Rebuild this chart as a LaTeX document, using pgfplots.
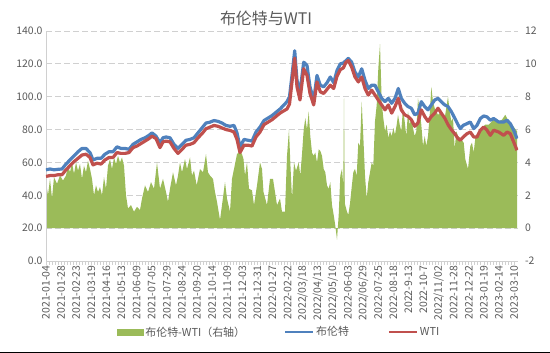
\documentclass[border=0pt]{standalone}
\usepackage{fontspec}
\setmainfont{Noto Sans CJK SC}
\usepackage{pgfplots}
\pgfplotsset{compat=1.18}
\usepackage{pgfplotstable}
\definecolor{brent}{HTML}{4F81BD}
\definecolor{wti}{HTML}{C0504D}
\definecolor{spreadc}{HTML}{9BBB59}
\definecolor{txt}{HTML}{595959}
\definecolor{gridc}{HTML}{D0D0D0}

% x = position on the date axis (label k sits at 46+15.1k)
\pgfplotstableread{
px brent wti
46 55.5 51.5
50 56 52
54 55.5 52
58 55.8 52.5
62 56 52.5
66 59 55.5
70 61.5 58
74 64 60.5
78 66.5 62.5
82 68.5 64.5
86 68.5 65
90 66 63
93 61.5 58.5
97 62.5 59.5
101 62.5 59
105 65 61.5
109 66.5 63
113 66.5 63
117 69.5 66
121 68.5 65.5
125 68.5 65.5
129 68 66
133 71 69
137 72.5 70
141 74 71.5
145 75 73
149 76.5 74.5
152 78 76
156 76 74.5
160 72 69
163 75 72.5
166 75.5 73
170 75 72.5
174 71 68.5
178 68.5 65.5
182 71 68
186 73.5 70.5
190 74 71
194 75 72
198 78 75
202 81 77.5
206 84 80.5
210 84.5 81.5
214 85.5 82.5
218 85 82
222 84 81
226 82.5 80
230 82 79.5
234 82.5 78.5
237 78 74
240 69.5 66
244 74 70.5
248 73.5 70.5
252 73 70
256 78.5 75.5
260 81.5 78.5
264 85.5 83
268 87 84.5
272 88.5 86
276 90.5 88
280 92.5 90
284 95 91.5
287 97 92.5
289.5 100 95.5
292 113 109
294.7 128 123.5
297 110 106
300 103 98
303.7 121 117
307 119 113
310 106 102
313.7 98 95
317 113 109
320.3 107 103
323.7 106 102
327 108.5 104.5
330.3 112 107
333.7 108.5 105
337 116 112.5
340.3 120 116.5
343.3 120.5 117.5
346 122 121
348.3 123.3 122
351.7 121 118
355 115 112
358.3 112 109
361.7 117 112
365 110 105
368.3 105 101
371.7 107 104
375 107 101
378.3 103 98
381.7 99 95
385 97 92
388.3 99 95
391.7 96 90
395 99 94
398.3 105 99
401.3 99 92
404.7 96 89
408 94 88
411.3 93 86
414.7 89 82
418 90 84
421.3 97 92
424.7 94 88
428 92 85
431.3 95 88
434.7 98 90
438 99 93
441.3 97 90
444.7 95 87
448 94 83
451.3 91 80
454.7 87 77.5
458 83 74.5
460.3 80.6 73.5
463.3 82.6 75.5
467 83.6 77.5
470.3 84.6 78.5
473.7 80.6 75.5
477 82.6 75.5
480.3 86.7 79.6
483.7 88.3 81.6
487 87.7 79.6
490.3 85.7 76.5
493.7 86.7 79.6
498.7 84.6 78.5
503.7 84.6 76.5
507 85.7 78.5
510.3 83.6 77.5
513.7 79.6 72.4
517 74.5 67.4
}\lines

\pgfplotstableread{
px r
46 0
46 2.8
48 2.0
50 3.0
52 1.8
54 3.1
57 2.7
60 3.2
63 2.9
66 3.2
68 3.8
70 3.4
72 4.0
74 3.3
76 4.0
78 3.5
80 3.9
82 3.0
84 3.8
86 3.4
88 4.1
90 3.6
92 3.0
94 2.0
96 2.6
98 2.2
100 2.5
102 2.0
104 3.1
106 2.4
108 3.8
110 4.2
112 3.6
114 4.3
116 3.9
118 4.4
120 4.0
122 4.3
124 3.8
126 2.0
128 1.2
131 1.4
134 1.0
137 1.3
140 1.1
142 1.8
145 2.6
148 2.2
151 2.8
154 2.4
157 4.0
160 2.4
163 3.0
166 2.2
168 1.6
170 2.4
173 3.4
176 2.6
178 3.2
180 4.0
182 3.4
185 4.2
187 3.6
190 4.3
192 3.2
194 3.5
196.7 2.6
200 3.6
203 3.4
206 4.5
208 3.4
210 3.2
213 3.0
215 2.2
217 1.6
220 0.5
222 1.4
225 2.8
227 1.8
230 1.0
232 3.0
234 3.6
237 4.5
240 4.7
242 4.5
243.5 4.2
245 3.2
247 4.0
249 2.4
252 2.3
254 1.4
257 2.6
260 4.0
262 3.6
263.5 2.2
267 1.4
270 3.0
273 3.0
277 1.4
280 1.8
282 1.0
285 1.0
287 4.4
289 6.0
290.3 4.0
292 1.8
294 4.0
296 3.5
298.7 4.0
300.3 3.2
302 4.5
303.7 6.0
305.3 6.7
307 6.0
308.7 7.1
310.3 5.6
312 4.6
313.7 4.4
315.3 4.6
317 4.0
318.7 4.8
320.3 4.7
322 4.4
323.7 3.6
325.3 3.4
327 2.6
328.7 2.4
330.3 2.8
332 1.4
333.7 0.8
335.3 0.15
337 -0.7
338.7 0.8
340.3 3.2
342 3.6
343.3 2.6
344 7.9
344.8 1.5
347 1.0
348.3 0.8
350 1.5
351.7 2.5
353.3 3.4
355 3.6
356.7 3.2
358.3 5.2
360 5.0
361.7 7.7
363.3 5.6
365 3.2
366.7 1.8
368.3 2.8
370 3.4
371.7 4.0
373.3 3.8
375 6.5
376.7 7.5
378.3 9.7
380 11.2
381.7 7.7
383.3 6.7
385 5.9
386.7 6.3
388.3 5.5
390 5.9
391.7 5.6
393.3 6.1
395 5.7
396.7 6.3
398 6.9
399.7 6.3
401.3 5.9
403 7.3
404.7 6.5
406.3 5.6
408 7.1
409.7 6.3
411.3 6.7
413 6.1
414.7 5.6
416.3 5.9
418 7.9
419.7 7.1
421.3 6.3
423 5.0
424.7 5.6
426.3 5.0
428 5.6
429.7 6.9
431.3 8.6
433 7.7
434.7 7.3
436.3 7.1
438 6.9
441.3 7.1
444.7 6.7
448 8.0
449.7 7.1
451.3 6.5
453 6.7
454.7 4.8
456.3 5.9
458 5.6
460.3 5.5
463.7 5.2
465.3 4.2
468 3.6
470.3 5.0
472 5.2
473.7 4.6
475.3 5.5
478.7 5.9
482 6.1
485.3 6.3
488.7 6.3
492 6.5
495.3 6.7
498.7 6.5
502 6.6
505.3 6.9
508.7 6.5
512 6.3
517 5.9
517 0
}\spread

\begin{document}
\begin{tikzpicture}[font=\fontsize{10.5}{12}\selectfont]
\path[use as bounding box] (-46bp,-92bp) rectangle (504bp,261bp);
% right axis: spread area, grid and date axis
\begin{axis}[
  scale only axis, width=472bp, height=230bp,
  at={(0,0)}, anchor=south west,
  xmin=46, xmax=518, ymin=-2, ymax=12,
  axis y line*=right, axis x line*=bottom,
  y axis line style={draw=none},
  x axis line style={gridc, line width=0.8bp},
  ytick={-2,0,...,12},
  ytick style={draw=none},
  ymajorgrids,
  major grid style={gridc, dash pattern=on 6bp off 3bp, line width=0.8bp},
  yticklabel style={text=txt, /pgf/number format/assume math mode=true},
  xtick={46,61.1,76.2,91.3,106.4,121.5,136.6,151.7,166.8,181.9,197,212.1,227.2,242.3,257.4,272.5,287.6,302.7,317.8,332.9,348,363.1,378.2,393.3,408.4,423.5,438.6,453.7,468.8,483.9,499,514.1},
  xticklabels={2021-01-04,2021-01-28,2021-02-23,2021-03-19,2021-04-16,2021-05-13,2021-06-09,2021-07-05,2021-07-29,2021-08-24,2021-09-20,2021-10-14,2021-11-09,2021-12-03,2021-12-31,2022-01-27,2022-02-22,2022/03/18,2022/04/13,2022/05/10,2022-06-03,2022/06/29,2022-07-25,2022-08-18,2022-9-13,2022-10-7,2022/11/02,2022-11-28,2022-12-22,2023-01-19,2023-02-14,2023-03-10},
  xticklabel style={rotate=90, anchor=east, text=txt, inner sep=1bp},
  minor x tick num=4,
  x tick style={gridc, line width=0.8bp},
  tick align=outside,
  major tick length=3.5bp, minor tick length=3.5bp,
]
\addplot[fill=spreadc, draw=none] table[x=px, y=r] {\spread};
\end{axis}
% left axis: Brent and WTI
\begin{axis}[
  scale only axis, width=472bp, height=230bp,
  at={(0,0)}, anchor=south west,
  xmin=46, xmax=518, ymin=0, ymax=140,
  axis x line=none, axis y line*=left,
  y axis line style={gridc, line width=0.8bp},
  ytick={0,20,...,140}, ytick style={draw=none},
  yticklabel style={text=txt, /pgf/number format/.cd, fixed, fixed zerofill, precision=1, assume math mode=true},
  legend columns=3,
  legend style={at={(0.494,-0.309)}, anchor=center, draw=none, fill=none,
    font=\fontsize{11}{12}\selectfont, text=txt,
    /tikz/every even column/.append style={column sep=37bp}},
  legend cell align=left,
]
\addlegendimage{legend image code/.code={\fill[spreadc] (0bp,-2.8bp) rectangle (26bp,2.8bp);}}
\addlegendentry{布伦特-WTI（右轴）}
\addplot[brent, line width=3.2bp, line join=round,
  legend image code/.code={\draw[brent, line width=2bp] (0bp,0bp) -- (28bp,0bp);}]
  table[x=px, y=brent] {\lines};
\addlegendentry{布伦特}
\addplot[wti, line width=3.2bp, line join=round,
  legend image code/.code={\draw[wti, line width=2bp] (0bp,0bp) -- (28bp,0bp);}]
  table[x=px, y=wti] {\lines};
\addlegendentry{WTI}
\end{axis}
\node[text=txt, font=\fontsize{16}{18}\selectfont] at (220bp,243bp) {布伦特与WTI};
\draw[black, line width=1bp] (-46bp,-91.5bp) -- (504bp,-91.5bp);
\end{tikzpicture}
\end{document}
